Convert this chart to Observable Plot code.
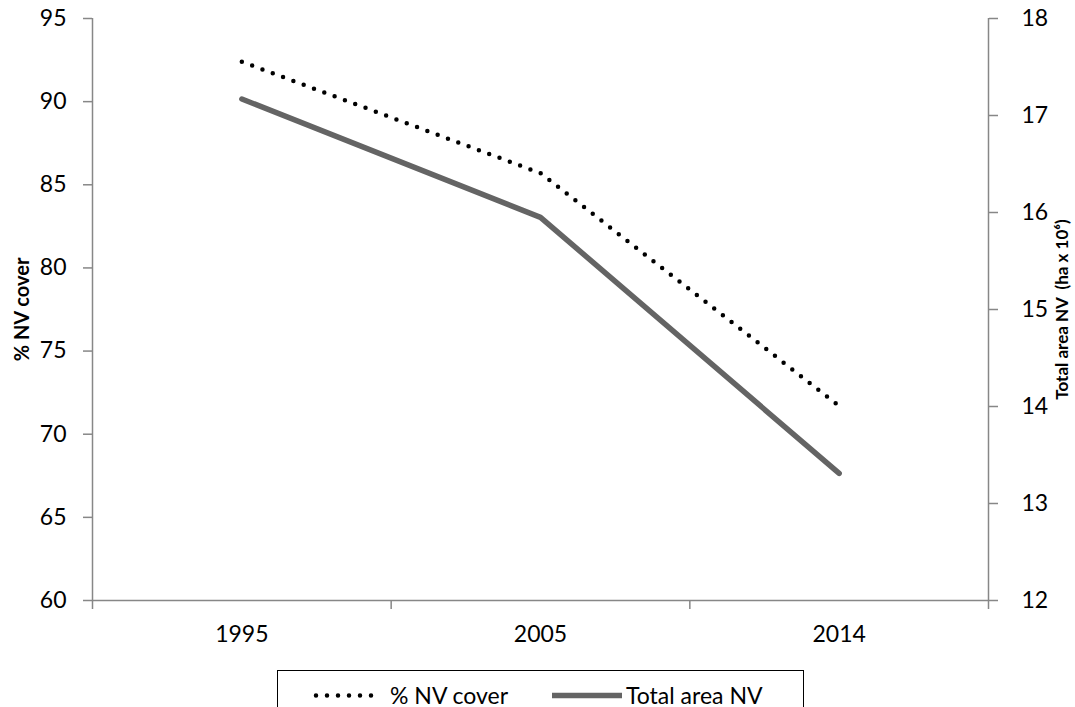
<!DOCTYPE html>
<html><head><meta charset="utf-8">
<script src="https://cdn.jsdelivr.net/npm/d3@7"></script>
<script src="https://cdn.jsdelivr.net/npm/@observablehq/plot@0.6"></script>
<style>
html,body{margin:0;padding:0;background:#fff;overflow:hidden;width:1075px;height:707px;}
#chart{position:absolute;left:0;top:0;}
#legend{position:absolute;left:277px;top:670px;width:527px;height:60px;border:1.5px solid #000;box-sizing:border-box;font-family:Lato,"Open Sans",sans-serif;font-size:23px;color:#000;}
#legend .t{position:absolute;line-height:1;white-space:nowrap;top:13px;}
#legend svg{position:absolute;}
</style></head><body>
<div id="chart"></div>
<div id="legend">
  <svg style="left:34px;top:19px" width="68" height="11"><line x1="4" y1="5.5" x2="64" y2="5.5" stroke="#000" stroke-width="4.5" stroke-linecap="round" stroke-dasharray="0 11"/></svg>
  <span class="t" style="left:112px">% NV cover</span>
  <svg style="left:272px;top:19px" width="74" height="11"><line x1="2" y1="5.5" x2="72" y2="5.5" stroke="#646464" stroke-width="5.5"/></svg>
  <span class="t" style="left:348px">Total area NV</span>
</div>
<script>
const years = ["1995", "2005", "2014"];
const pctCover = [92.4, 85.7, 71.7];
const totalArea = [17.17, 15.95, 13.31];
const leftTicks = [60, 65, 70, 75, 80, 85, 90, 95];
const rightTicks = [12, 13, 14, 15, 16, 17, 18];

const rightToLeft = v => 60 + (v - 12) * 35 / 6;
const leftToRight = v => 12 + (v - 60) * 6 / 35;

const dataPct = years.map((y, i) => ({i, v: pctCover[i]}));
const dataArea = years.map((y, i) => ({i, v: rightToLeft(totalArea[i])}));

const gray = "#878787";
const chart = Plot.plot({
  width: 1075,
  height: 660,
  marginLeft: 92,
  marginRight: 87,
  marginTop: 18,
  marginBottom: 60,
  style: {fontFamily: "Lato, 'Open Sans', sans-serif", fontSize: "23px", color: "#000", background: "#fff"},
  x: {domain: [-0.5, 2.5], label: null},
  y: {domain: [60, 95], label: null},
  marks: [
    Plot.ruleY([60], {stroke: gray, strokeWidth: 1.5}),
    Plot.ruleX([-0.5, 2.5], {stroke: gray, strokeWidth: 1.5}),
    Plot.axisY({ticks: leftTicks, tickSize: 9, tickPadding: 17, stroke: gray, strokeWidth: 1.5, fill: "#000", label: null}),
    Plot.axisY({anchor: "right", ticks: rightTicks.map(rightToLeft), tickFormat: d => String(Math.round(leftToRight(d))), tickSize: 9, tickPadding: 24, stroke: gray, strokeWidth: 1.5, fill: "#000", label: null}),
    Plot.axisX({ticks: [-0.5, 0.5, 1.5, 2.5], tickFormat: () => "", tickSize: 9, stroke: gray, strokeWidth: 1.5, label: null}),
    Plot.axisX({ticks: [0, 1, 2], tickSize: 0, tickPadding: 25, tickFormat: i => years[i], fill: "#000", label: null}),
    Plot.line(dataArea, {x: "i", y: "v", stroke: "#646464", strokeWidth: 5.5, strokeLinecap: "round", strokeLinejoin: "round"}),
    Plot.line(dataPct, {x: "i", y: "v", stroke: "#000", strokeWidth: 4.5, strokeDasharray: "0 11", strokeLinecap: "round"}),
    Plot.text(["% NV cover"], {frameAnchor: "left", textAnchor: "middle", dx: -70, rotate: -90, fontWeight: "bold", fontSize: "20px", fill: "#000"}),
    Plot.text(["Total area NV  (ha x 10\u2076)"], {frameAnchor: "right", textAnchor: "middle", dx: 74, rotate: -90, fontWeight: "bold", fontSize: "17px", fill: "#000"})
  ]
});
document.getElementById("chart").appendChild(chart);
</script>
</body></html>
